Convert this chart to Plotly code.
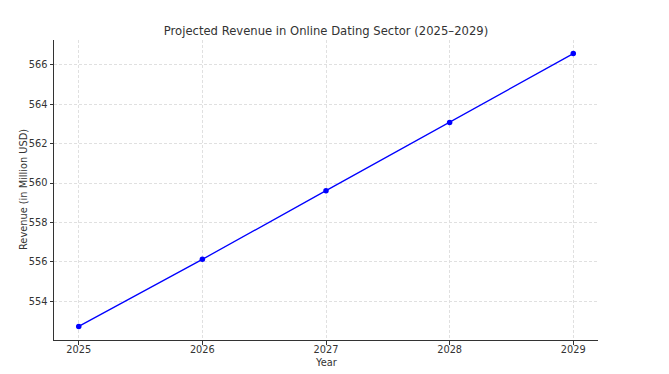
import plotly.graph_objects as go

years = [2025, 2026, 2027, 2028, 2029]
revenue = [552.73, 556.13, 559.61, 563.07, 566.56]
y_ticks = [554, 556, 558, 560, 562, 564, 566]

fig = go.Figure()
fig.add_trace(go.Scatter(
    x=years, y=revenue, mode="lines+markers",
    line=dict(color="#0000ff", width=1.3),
    marker=dict(color="#0000ff", size=5.5),
))

fig.update_layout(
    width=669, height=374,
    margin=dict(l=54, r=71, t=40, b=34, autoexpand=False),
    paper_bgcolor="white", plot_bgcolor="white",
    showlegend=False,
    font=dict(family="DejaVu Sans", size=9.8, color="#333333"),
    title=dict(text="Projected Revenue in Online Dating Sector (2025–2029)",
               x=0.5, xref="paper", xanchor="center", y=1 - 31/374, yanchor="middle",
               font=dict(family="DejaVu Sans", size=11.6, color="#333333")),
    xaxis=dict(
        range=[2024.8, 2029.2], tickvals=years, ticktext=[str(y) for y in years],
        showline=True, linecolor="#333333", linewidth=1,
        ticks="outside", ticklen=3.5, tickcolor="#333333",
        showgrid=True, gridcolor="#e0e0e0", griddash="3px,2px", gridwidth=0.8,
        zeroline=False, automargin=False, ticklabelstandoff=-3,
        tickfont=dict(size=9.8),
    ),
    yaxis=dict(
        range=[552.04, 567.25], tickvals=y_ticks,
        showline=True, linecolor="#333333", linewidth=1,
        ticks="outside", ticklen=3.5, tickcolor="#333333",
        showgrid=True, gridcolor="#e0e0e0", griddash="3px,2px", gridwidth=0.8,
        zeroline=False, automargin=False,
        tickfont=dict(size=9.8),
    ),
    annotations=[
        dict(text="Year", xref="paper", yref="paper", x=0.5, y=-(362 - 340) / 300,
             xanchor="center", yanchor="middle", showarrow=False,
             font=dict(size=9.8, color="#333333")),
        dict(text="Revenue (in Million USD)", xref="paper", yref="paper",
             x=-(54 - 23) / 544, y=0.5, xanchor="center", yanchor="middle",
             textangle=-90, showarrow=False,
             font=dict(size=9.8, color="#333333")),
    ],
)

fig.write_html("out.html")
